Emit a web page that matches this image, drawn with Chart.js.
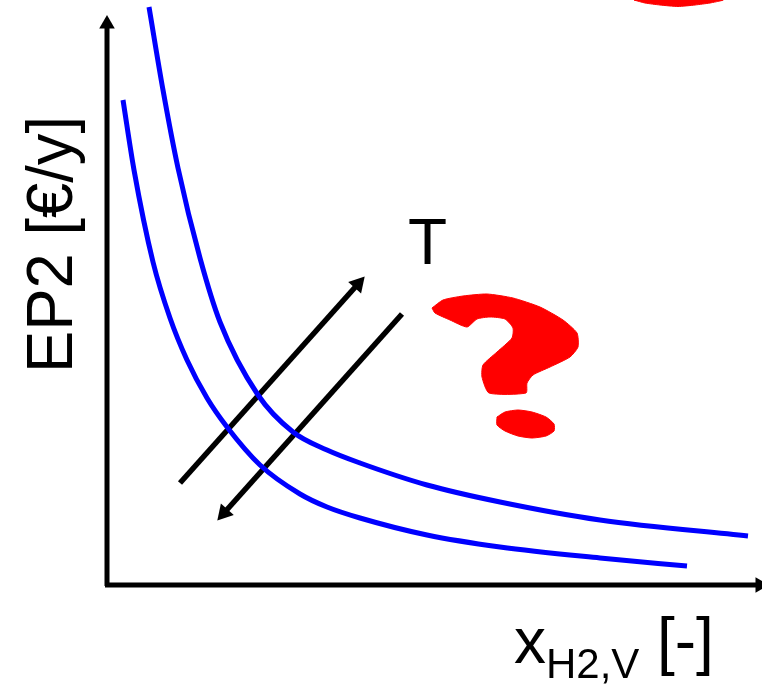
<!DOCTYPE html>
<html>
<head>
<meta charset="utf-8">
<title>EP2 vs x H2,V</title>
<script src="https://cdn.jsdelivr.net/npm/chart.js@4"></script>
<style>
    html, body { margin: 0; padding: 0; background: #fff; }
    canvas { display: block; }
</style>
</head>
<body>
<canvas id="sketch" width="762" height="686"></canvas>
<script>
const upperCurveX = [149, 163, 178, 200, 220, 258, 293, 327, 360, 427, 500, 600, 748];
const upperCurveY = [7, 90, 168, 258, 322, 395, 432, 450, 463, 485, 502, 520, 536];
const lowerCurveX = [123, 134, 153, 170, 187, 207, 227, 260, 300, 327, 360, 427, 500, 600, 687];
const lowerCurveY = [100, 170, 262, 318, 360, 398, 427, 465, 494, 507, 518, 535, 547, 558, 566];

const xAxisLineX = [105, 760];
const xAxisLineY = [585, 585];
const yAxisLineX = [107, 107];
const yAxisLineY = [586, 24];
const arrowUpX = [180, 358];
const arrowUpY = [483, 284];
const arrowDownX = [402, 224];
const arrowDownY = [314, 513];

const markX = [432, 443, 463, 487, 513, 540, 563, 577, 578, 570, 550, 533, 527, 526, 489, 482, 483, 497, 512, 513, 505, 490, 477, 467, 450, 435, 432];
const markY = [308, 300, 296, 294, 298, 307, 320, 333, 347, 357, 367, 375, 383, 393, 393, 377, 365, 352, 338, 328, 319, 317, 319, 327, 320, 313, 308];
const dotX = [497, 505, 518, 532, 546, 554, 554, 546, 532, 518, 505, 497, 497];
const dotY = [417, 412, 410, 412, 417, 424, 431, 436, 438, 436, 431, 425, 417];
const topBlobX = [634, 645, 660, 678, 695, 710, 723, 634];
const topBlobY = [0, 3, 5, 6.5, 5, 3, 0, 0];

const BLUE = '#0000ff';
const RED = '#ff0000';
const FONT = '"Liberation Sans", Arial, sans-serif';

const points = (xs, ys) => xs.map((x, i) => ({ x, y: ys[i] }));

function curve(xs, ys) {
    return {
        data: points(xs, ys),
        showLine: true,
        borderColor: BLUE,
        borderWidth: 5,
        pointRadius: 0,
        cubicInterpolationMode: 'monotone',
        fill: false
    };
}

// black line with a triangle on its last point
function arrow(xs, ys, rotation, radius, width) {
    return {
        data: points(xs, ys),
        showLine: true,
        borderColor: '#000',
        backgroundColor: '#000',
        borderWidth: width,
        pointStyle: 'triangle',
        pointRadius: [0, radius],
        pointBorderWidth: 0,
        pointRotation: [0, rotation],
        fill: false
    };
}

function blob(xs, ys) {
    return {
        data: points(xs, ys),
        showLine: true,
        borderColor: RED,
        backgroundColor: RED,
        borderWidth: 1,
        pointRadius: 0,
        tension: 0.2,
        fill: 'shape'
    };
}

// axis titles and the T, with the subscript the library cannot do
const textPlugin = {
    id: 'sketchText',
    afterDraw(chart) {
        const { ctx, scales: { x, y } } = chart;
        const put = (text, px, py, size, angle, stretch) => {
            ctx.save();
            ctx.translate(x.getPixelForValue(px), y.getPixelForValue(py));
            ctx.rotate(angle || 0);
            ctx.scale(stretch || 1, 1);
            ctx.font = size + 'px ' + FONT;
            ctx.fillStyle = '#000';
            ctx.textBaseline = 'alphabetic';
            ctx.fillText(text, 0, 0);
            ctx.restore();
        };
        put('T', 408, 264, 64);
        put('EP2 [€/y]', 72, 373, 65, -Math.PI / 2, 0.975);
        put('x', 514, 663, 64);
        put('H2,V', 546, 678, 42);
        put('[-]', 657, 663, 64);
    }
};

new Chart(document.getElementById('sketch'), {
    type: 'scatter',
    data: {
        datasets: [
            curve(upperCurveX, upperCurveY),
            curve(lowerCurveX, lowerCurveY),
            arrow(xAxisLineX, xAxisLineY, 90, 9, 5),
            arrow(yAxisLineX, yAxisLineY, 0, 9, 5),
            arrow(arrowUpX, arrowUpY, 42, 10, 5.5),
            arrow(arrowDownX, arrowDownY, 222, 10, 5.5),
            blob(markX, markY),
            blob(dotX, dotY),
            blob(topBlobX, topBlobY)
        ]
    },
    options: {
        responsive: false,
        animation: false,
        events: [],
        layout: { padding: 0, autoPadding: false },
        plugins: { legend: { display: false }, tooltip: { enabled: false } },
        scales: {
            x: { type: 'linear', display: false, min: 0, max: 762 },
            y: { type: 'linear', display: false, min: 0, max: 686, reverse: true }
        }
    },
    plugins: [textPlugin]
});
</script>
</body>
</html>
